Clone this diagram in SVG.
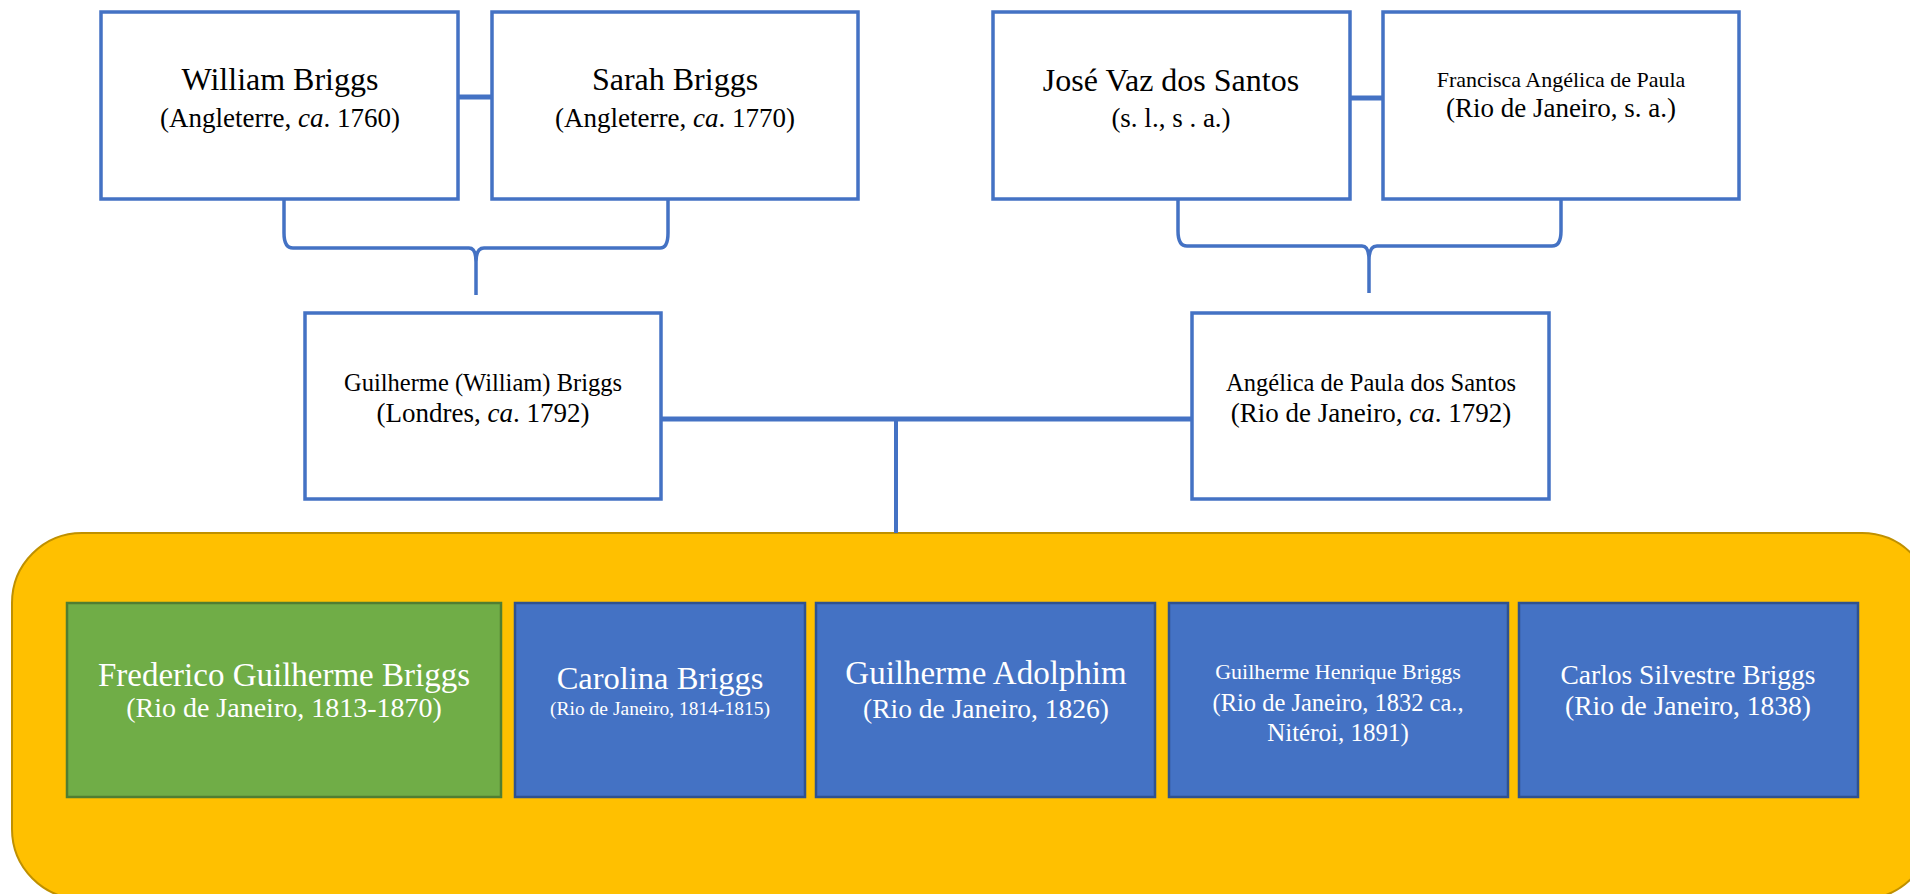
<svg xmlns="http://www.w3.org/2000/svg" width="1910" height="894" viewBox="0 0 1910 894">
<style>
.box{fill:#fff;stroke:#4472C4;stroke-width:3.5}
.kid{fill:#4472C4;stroke:#2F528F;stroke-width:2.5}
.green{fill:#70AD47;stroke:#507E32;stroke-width:2.5}
.con{fill:none;stroke:#4472C4;stroke-width:3.5}
.thick{fill:none;stroke:#4472C4;stroke-width:5}
text{font-family:"Liberation Serif","Times New Roman",serif;text-anchor:middle;fill:#000}
.w{fill:#fff}
.big{font-size:32px}
.sub{font-size:27px}
.mid{font-size:24.5px}
.sm{font-size:22px}
.it{font-style:italic}
</style>
<rect x="12" y="533" width="1920" height="366" rx="70" ry="70" fill="#FFC000" stroke="#BF9000" stroke-width="2"/>
<g id="connectors">
<path class="thick" d="M458,97 H492"/>
<path class="thick" d="M1350,98 H1383"/>
<path class="con" d="M284,199 V233 Q284,248 293,248 H469 Q476,248 476,262 V295 M476,262 Q476,248 484,248 H660 Q668,248 668,233 V199"/>
<path class="con" d="M1178,199 V231 Q1178,246 1187,246 H1362 Q1369,246 1369,260 V293 M1369,260 Q1369,246 1377,246 H1552 Q1561,246 1561,231 V199"/>
<path class="thick" d="M661,419 H1192"/>
<path class="con" d="M896,419 V533" style="stroke-width:4"/>
</g>
<g id="william">
<rect class="box" x="101" y="12" width="357" height="187"/>
<text class="big" x="280" y="90">William Briggs</text>
<text class="sub" x="280" y="127">(Angleterre, <tspan class="it">ca</tspan>. 1760)</text>
</g>
<g id="sarah">
<rect class="box" x="492" y="12" width="366" height="187"/>
<text class="big" x="675" y="90">Sarah Briggs</text>
<text class="sub" x="675" y="127">(Angleterre, <tspan class="it">ca</tspan>. 1770)</text>
</g>
<g id="jose">
<rect class="box" x="993" y="12" width="357" height="187"/>
<text class="big" x="1171" y="91">José Vaz dos Santos</text>
<text class="sub" x="1171" y="127">(s. l., s . a.)</text>
</g>
<g id="francisca">
<rect class="box" x="1383" y="12" width="356" height="187"/>
<text class="sm" x="1561" y="87">Francisca Angélica de Paula</text>
<text class="sub" x="1561" y="117">(Rio de Janeiro, s. a.)</text>
</g>
<g id="guilherme">
<rect class="box" x="305" y="313" width="356" height="186"/>
<text class="mid" x="483" y="391">Guilherme (William) Briggs</text>
<text class="sub" x="483" y="422">(Londres, <tspan class="it">ca</tspan>. 1792)</text>
</g>
<g id="angelica">
<rect class="box" x="1192" y="313" width="357" height="186"/>
<text class="mid" x="1371" y="391">Angélica de Paula dos Santos</text>
<text class="sub" x="1371" y="422">(Rio de Janeiro, <tspan class="it">ca</tspan>. 1792)</text>
</g>
<g id="frederico">
<rect class="green" x="67" y="603" width="434" height="194"/>
<text class="w" x="284" y="686" style="font-size:33px">Frederico Guilherme Briggs</text>
<text class="w" x="284" y="717" style="font-size:28px">(Rio de Janeiro, 1813-1870)</text>
</g>
<g id="carolina">
<rect class="kid" x="515" y="603" width="290" height="194"/>
<text class="w" x="660" y="689" style="font-size:32.5px">Carolina Briggs</text>
<text class="w" x="660" y="715" style="font-size:19.5px">(Rio de Janeiro, 1814-1815)</text>
</g>
<g id="adolphim">
<rect class="kid" x="816" y="603" width="339" height="194"/>
<text class="w" x="986" y="684" style="font-size:33px">Guilherme Adolphim</text>
<text class="w" x="986" y="718" style="font-size:27.5px">(Rio de Janeiro, 1826)</text>
</g>
<g id="henrique">
<rect class="kid" x="1169" y="603" width="339" height="194"/>
<text class="w" x="1338" y="679" style="font-size:22px">Guilherme Henrique Briggs</text>
<text class="w" x="1338" y="711" style="font-size:24.5px">(Rio de Janeiro, 1832 ca.,</text>
<text class="w" x="1338" y="741" style="font-size:25px">Nitéroi, 1891)</text>
</g>
<g id="carlos">
<rect class="kid" x="1519" y="603" width="339" height="194"/>
<text class="w" x="1688" y="684" style="font-size:27.5px">Carlos Silvestre Briggs</text>
<text class="w" x="1688" y="715" style="font-size:27.5px">(Rio de Janeiro, 1838)</text>
</g>
</svg>
